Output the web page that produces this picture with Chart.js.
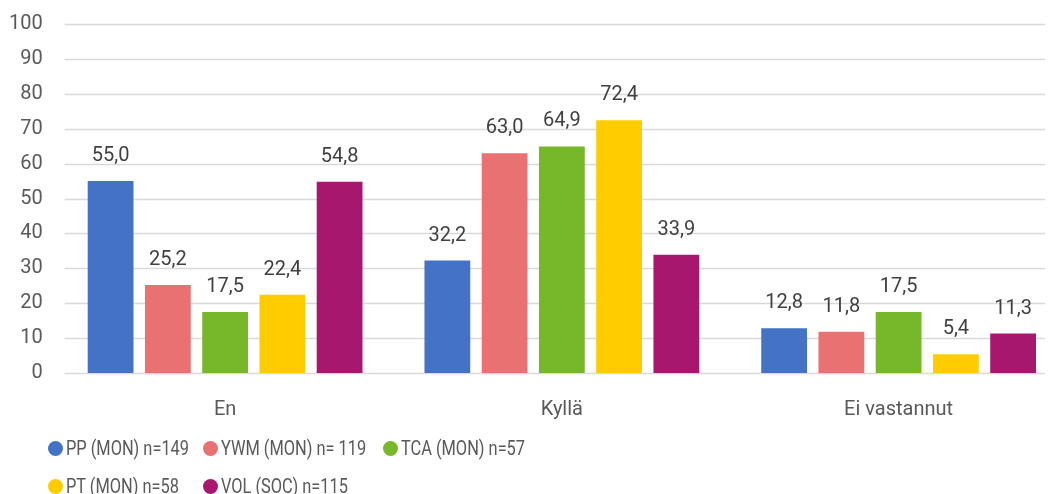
<!DOCTYPE html>
<html>
<head>
<meta charset="utf-8">
<script src="https://cdn.jsdelivr.net/npm/chart.js@4"></script>
<style>
  body { margin: 0; background: #fff; font-family: Roboto, sans-serif; overflow: hidden; }
  #wrap { width: 1067px; height: 439px; }
  #legend { position: absolute; left: 48px; top: 436px; display: grid; grid-template-columns: 155px 180px 200px; row-gap: 13px; }
  .item { display: flex; align-items: center; font-size: 21px; line-height: 25px; color: #595959; white-space: nowrap; }
  .item span.txt { display: inline-block; transform: scaleX(0.78); transform-origin: left center; }
  .dot { flex: 0 0 auto; width: 15px; height: 15px; border-radius: 50%; margin-right: 3px; }
</style>
</head>
<body>
<div id="wrap"><canvas id="chart"></canvas></div>
<div id="legend"></div>
<script>
const categories = ["En", "Kyllä", "Ei vastannut"];
const seriesNames = ["PP (MON) n=149", "YWM (MON) n= 119", "TCA (MON) n=57", "PT (MON) n=58", "VOL (SOC) n=115"];
const seriesColors = ["#4472C4", "#E97171", "#77B72A", "#FFCC00", "#A8176E"];
const ppValues = [55.0, 32.2, 12.8];
const ywmValues = [25.2, 63.0, 11.8];
const tcaValues = [17.5, 64.9, 17.5];
const ptValues = [22.4, 72.4, 5.4];
const volValues = [54.8, 33.9, 11.3];
const seriesValues = [ppValues, ywmValues, tcaValues, ptValues, volValues];

const textColor = "#595959";

// horizontal grid lines, drawn a bit inside the chart area like the original
const gridLines = {
    id: "gridLines",
    beforeDatasetsDraw(chart) {
        const c = chart.ctx;
        const y = chart.scales.y;
        const x0 = chart.chartArea.left + 8;
        const x1 = chart.width - 22;
        c.save();
        c.strokeStyle = "#D9D9D9";
        c.lineWidth = 1.5;
        y.ticks.forEach(t => {
            const py = Math.round(y.getPixelForValue(t.value)) + 0.5;
            c.beginPath();
            c.moveTo(x0, py);
            c.lineTo(x1, py);
            c.stroke();
        });
        c.restore();
    }
};

const valueLabels = {
    id: "valueLabels",
    afterDatasetsDraw(chart) {
        const c = chart.ctx;
        c.save();
        c.font = "20px Roboto";
        c.fillStyle = "#404040";
        c.textAlign = "center";
        c.textBaseline = "bottom";
        chart.data.datasets.forEach((ds, i) => {
            chart.getDatasetMeta(i).data.forEach((bar, j) => {
                c.fillText(ds.data[j].toFixed(1).replace(".", ","), bar.x, bar.y - 15);
            });
        });
        c.restore();
    }
};

new Chart(document.getElementById("chart"), {
    type: "bar",
    data: {
        labels: categories,
        datasets: seriesValues.map((vals, i) => ({
            label: seriesNames[i],
            data: vals,
            backgroundColor: seriesColors[i],
            barPercentage: 0.8,
            categoryPercentage: 0.85
        }))
    },
    options: {
        responsive: true,
        maintainAspectRatio: false,
        animation: false,
        layout: { padding: { top: 0, right: 0, left: -5, bottom: 0 } },
        plugins: { legend: { display: false }, tooltip: { enabled: false } },
        scales: {
            x: {
                grid: { display: false },
                border: { display: false },
                ticks: { color: textColor, font: { family: "Roboto", size: 20 }, padding: 17 },
                afterFit(scale) { scale.paddingLeft = 0; scale.paddingRight = 0; }
            },
            y: {
                min: 0, max: 100,
                ticks: { stepSize: 10, color: textColor, font: { family: "Roboto", size: 20 }, padding: 14 },
                grid: { display: false, drawTicks: false },
                border: { display: false },
                afterFit(scale) { scale.paddingTop = 24; scale.paddingBottom = 0; }
            }
        }
    },
    plugins: [gridLines, valueLabels]
});

const legend = document.getElementById("legend");
seriesNames.forEach((name, i) => {
    const item = document.createElement("div");
    item.className = "item";
    item.innerHTML = `<span class="dot" style="background:${seriesColors[i]}"></span><span class="txt">${name}</span>`;
    legend.appendChild(item);
});
</script>
</body>
</html>
